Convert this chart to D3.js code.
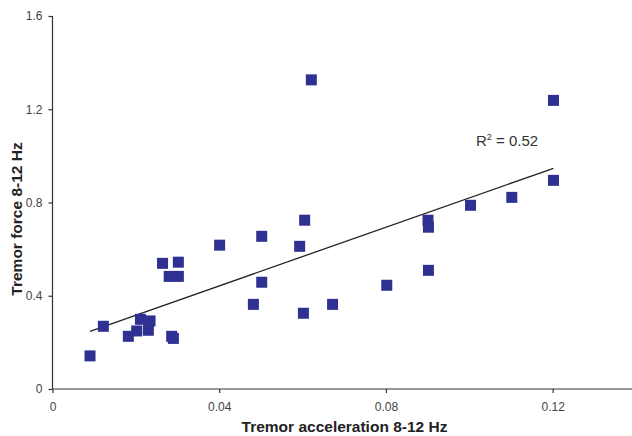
<!DOCTYPE html>
<html lang="en">
<head>
<meta charset="utf-8">
<script src="https://cdn.jsdelivr.net/npm/d3@7"></script>
<style>
  body { margin: 0; background: #fff; }
  .axis path, .axis line { fill: none; stroke: #333; stroke-width: 1.2; }
  .axis text { font-family: "Liberation Sans", Arial, sans-serif; font-size: 12px; fill: #444; }
  .title { font-family: "Liberation Sans", Arial, sans-serif; font-size: 15.5px; font-weight: bold; fill: #222; }
</style>
</head>
<body>
<div id="chart"></div>
<script>
  // acceleration (x) and force (y) per subject
  var accel = [0.009, 0.0122, 0.0182, 0.0202, 0.0211, 0.0234, 0.023, 0.0264, 0.0302, 0.028,
               0.0302, 0.0286, 0.029, 0.0401, 0.0502, 0.0605, 0.0593, 0.0502, 0.0482, 0.0602,
               0.0672, 0.0802, 0.0621, 0.1202, 0.1202, 0.1102, 0.1003, 0.0901, 0.0902, 0.0902];
  var force = [0.142, 0.269, 0.226, 0.249, 0.299, 0.292, 0.252, 0.539, 0.544, 0.483,
               0.483, 0.226, 0.217, 0.617, 0.655, 0.724, 0.612, 0.458, 0.363, 0.325,
               0.363, 0.445, 1.326, 1.238, 0.895, 0.822, 0.788, 0.724, 0.694, 0.509];
  var xTicks = [0, 0.04, 0.08, 0.12];
  var yTicks = [0, 0.4, 0.8, 1.2, 1.6];
  var r2Label = "0.52";

  var w = 632, h = 436;
  var svg = d3.select("#chart").append("svg").attr("width", w).attr("height", h);

  var xScale = d3.scaleLinear().domain([0, 0.14]).range([52.5, 636]);
  var yScale = d3.scaleLinear().domain([0, 1.6]).range([389, 16]);

  var pts = accel.map(function(a, i) { return [a, force[i]]; });

  // least squares trend line
  var mx = d3.mean(accel), my = d3.mean(force);
  var sxy = d3.sum(pts, function(d) { return (d[0] - mx) * (d[1] - my); });
  var sxx = d3.sum(pts, function(d) { return (d[0] - mx) * (d[0] - mx); });
  var slope = sxy / sxx, icpt = my - slope * mx;
  var x0 = d3.min(accel), x1 = d3.max(accel);

  svg.append("line")
     .attr("x1", xScale(x0)).attr("y1", yScale(icpt + slope * x0))
     .attr("x2", xScale(x1)).attr("y2", yScale(icpt + slope * x1))
     .attr("stroke", "#222").attr("stroke-width", 1.3);

  var s = 11;
  svg.selectAll("rect.pt")
     .data(pts)
     .enter()
     .append("rect")
     .attr("class", "pt")
     .attr("x", function(d) { return xScale(d[0]) - s / 2; })
     .attr("y", function(d) { return yScale(d[1]) - s / 2; })
     .attr("width", s).attr("height", s)
     .attr("fill", "#2e3192");

  var xAxis = d3.axisBottom(xScale).tickValues(xTicks).tickSize(4).tickPadding(9)
                .tickFormat(function(d) { return d === 0 ? "0" : d3.format(".2f")(d); });
  svg.append("g").attr("class", "axis")
     .attr("transform", "translate(0," + yScale(0) + ")")
     .call(xAxis)
     .select(".domain").attr("d", "M" + xScale(0) + ",0H" + w);

  var yAxis = d3.axisLeft(yScale).tickValues(yTicks).tickSize(4).tickPadding(6)
                .tickFormat(function(d) { return d === 0 ? "0" : d3.format(".1f")(d); });
  svg.append("g").attr("class", "axis")
     .attr("transform", "translate(" + xScale(0) + ",0)")
     .call(yAxis)
     .select(".domain").attr("d", "M0," + yScale(1.6) + "V" + yScale(0));

  // R squared label
  var lab = svg.append("text")
     .attr("x", 476).attr("y", 146)
     .attr("font-family", "Liberation Sans, Arial, sans-serif")
     .attr("font-size", "15px").attr("fill", "#333");
  lab.append("tspan").text("R");
  lab.append("tspan").attr("dy", -6).attr("font-size", "9px").text("2");
  lab.append("tspan").attr("dy", 6).text(" = " + r2Label);

  svg.append("text").attr("class", "title")
     .attr("x", 344.5).attr("y", 432).attr("text-anchor", "middle")
     .text("Tremor acceleration 8-12 Hz");

  svg.append("text").attr("class", "title")
     .attr("transform", "translate(22,219) rotate(-90)")
     .attr("text-anchor", "middle")
     .text("Tremor force 8-12 Hz");
</script>
</body>
</html>
